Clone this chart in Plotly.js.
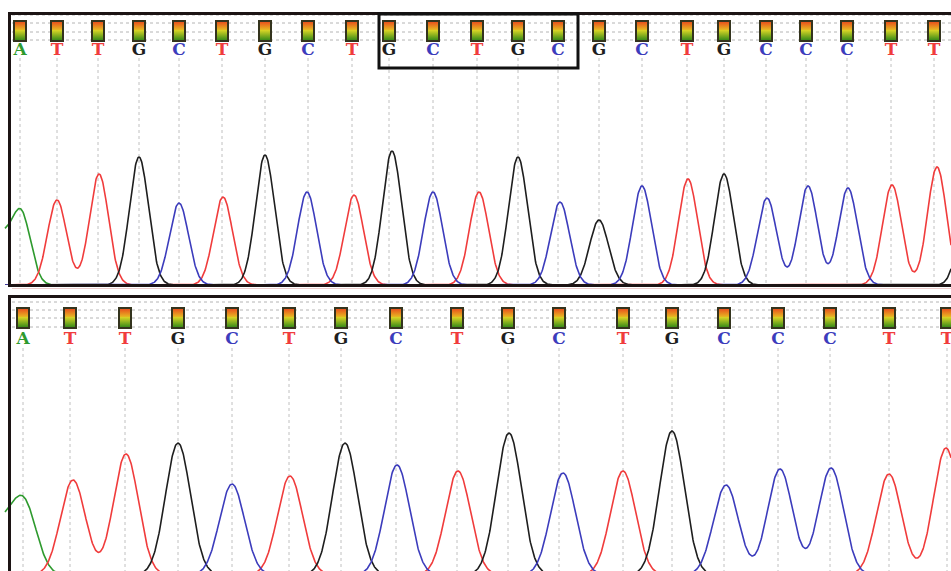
<!DOCTYPE html>
<html>
<head>
<meta charset="utf-8">
<script src="https://cdn.plot.ly/plotly-3.0.1.min.js"></script>
<style>html,body{margin:0;padding:0;background:#fff;}#chart{width:951px;height:571px;}</style>
</head>
<body>
<div id="chart"></div>
<script>
// ---------- DATA ----------
// Top chromatogram (with GCTGC insertion)
const topCallBases = ['A','T','T','G','C','T','G','C','T','G','C','T','G','C','G','C','T','G','C','C','C','T','T'];
const topCallPos   = [20,57,98,139,179,222,265,308,352,389,433,477,518,558,599,642,687,724,766,806,847,891,934];
const topPeakBase  = ['A','A','T','T','G','C','T','G','C','T','G','C','T','G','C','G','C','T','G','C','C','C','T','T','G'];
const topPeakPos   = [0,21,57,99,139,179,223,265,307,354,392,433,479,518,560,599,642,688,724,767,808,848,892,937,970];
const topPeakHeight= [450,720,850,1110,1280,820,880,1300,930,900,1340,930,930,1280,830,650,990,1060,1110,870,990,970,1000,1180,1200];
const topHighlight = [9, 13]; // indices of highlighted calls (GCTGC)

// Bottom chromatogram
const botCallBases = ['A','T','T','G','C','T','G','C','T','G','C','T','G','C','C','C','T','T'];
const botCallPos   = [23,70,125,178,232,289,341,396,457,508,559,623,672,724,778,830,889,947];
const botPeakBase  = ['A','A','T','T','G','C','T','G','C','T','G','C','T','G','C','C','C','T','T'];
const botPeakPos   = [0,24,73,126,178,232,290,345,397,458,509,563,623,672,726,780,831,889,946];
const botPeakHeight= [440,710,950,1210,1320,910,990,1320,1100,1040,1420,1020,1040,1440,900,1060,1070,1010,1270];

// ---------- STYLE ----------
const W = 951, H = 571;
const baseColor = {A:'#2e9a2e', T:'#f03c3c', G:'#1e1e1e', C:'#3c3cbc'};
const channelOrder = ['A','T','G','C'];
const px2paperY = py => 1 - py / H;

function signalTraces(pos, base, height, sigma, xa, ya) {
  const traces = [];
  channelOrder.forEach(ch => {
    const xs = [], ys = [];
    for (let x = 5; x <= W; x += 0.5) {
      let s = 0;
      for (let i = 0; i < pos.length; i++) {
        if (base[i] !== ch) continue;
        const d = x - pos[i];
        s += height[i] * Math.exp(-d * d / (2 * sigma * sigma));
      }
      xs.push(x); ys.push(s);
    }
    traces.push({type:'scatter', mode:'lines', x:xs, y:ys, xaxis:xa, yaxis:ya,
      line:{color:baseColor[ch], width:1.6}, hoverinfo:'skip', showlegend:false});
  });
  return traces;
}

function gridTrace(pos, yStart, yEnd, xa, ya) {
  const xs = [], ys = [];
  pos.forEach(p => { xs.push(p, p, null); ys.push(yStart, yEnd, null); });
  return {type:'scatter', mode:'lines', x:xs, y:ys, xaxis:xa, yaxis:ya,
    line:{color:'#c0c0c0', width:1, dash:'dot'}, hoverinfo:'skip', showlegend:false};
}

function boxTraces(pos, yTop, yBot, xa, ya) {
  const both = pos.concat(pos);
  const ysBoth = pos.map(() => yTop).concat(pos.map(() => yBot));
  return [
    {type:'scatter', mode:'markers', x:both, y:ysBoth, xaxis:xa, yaxis:ya,
      marker:{symbol:'square', size:14, color:'#34341e'}, hoverinfo:'skip', showlegend:false},
    {type:'scatter', mode:'markers', x:pos, y:pos.map(() => yTop), xaxis:xa, yaxis:ya,
      marker:{symbol:'square', size:10, color:'#e8521c', gradient:{type:'vertical', color:'#e6d424'}},
      hoverinfo:'skip', showlegend:false},
    {type:'scatter', mode:'markers', x:pos, y:pos.map(() => yBot), xaxis:xa, yaxis:ya,
      marker:{symbol:'square', size:10, color:'#dcd626', gradient:{type:'vertical', color:'#3a8c18'}},
      hoverinfo:'skip', showlegend:false}
  ];
}

function textTrace(pos, bases, y, xa, ya) {
  return {type:'scatter', mode:'text', x:pos, y:pos.map(() => y), text:bases, xaxis:xa, yaxis:ya,
    textposition:'middle center', cliponaxis:false,
    textfont:{family:'DejaVu Serif, Liberation Serif, serif', size:17, weight:'bold',
      color:bases.map(b => baseColor[b])},
    hoverinfo:'skip', showlegend:false};
}

// y units: 10 per pixel. Top baseline at py=285, bottom baseline at py=575
const topY = py => (285 - py) * 10;
const botY = py => (575 - py) * 10;

const data = [].concat(
  [gridTrace(topCallPos, topY(58), 0, 'x', 'y')],
  [gridTrace(botCallPos, botY(348), botY(580), 'x2', 'y2')],
  signalTraces(topPeakPos, topPeakBase, topPeakHeight, 9.5, 'x', 'y'),
  signalTraces(botPeakPos, botPeakBase, botPeakHeight, 12.5, 'x2', 'y2'),
  boxTraces(topCallPos, topY(27), topY(35), 'x', 'y'),
  boxTraces(botCallPos, botY(314), botY(322), 'x2', 'y2'),
  [textTrace(topCallPos, topCallBases, topY(50.5), 'x', 'y')],
  [textTrace(botCallPos, botCallBases, botY(339.5), 'x2', 'y2')]
);

const shapes = [];
// dotted guide lines in the base-call bands
[15, 23, 32, 40].forEach(py => shapes.push({type:'line', xref:'paper', yref:'paper', layer:'below',
  x0:12/W, x1:1, y0:px2paperY(py), y1:px2paperY(py), line:{color:'#b4b4b4', width:1, dash:'dot'}}));
[302, 310, 318, 327].forEach(py => shapes.push({type:'line', xref:'paper', yref:'paper', layer:'below',
  x0:12/W, x1:1, y0:px2paperY(py), y1:px2paperY(py), line:{color:'#b4b4b4', width:1, dash:'dot'}}));
// faint baseline under the top panel
shapes.push({type:'line', xref:'paper', yref:'paper', x0:12/W, x1:1, y0:px2paperY(288.5), y1:px2paperY(288.5),
  line:{color:'rgba(200,110,110,0.35)', width:1}});
// panel frames
shapes.push({type:'rect', xref:'paper', yref:'paper', x0:9.5/W, x1:1.02, y0:px2paperY(285.5), y1:px2paperY(13.5),
  line:{color:'#1c1414', width:3}});
shapes.push({type:'rect', xref:'paper', yref:'paper', x0:9.5/W, x1:1.02, y0:-0.05, y1:px2paperY(296.5),
  line:{color:'#1c1414', width:3}});
// highlight box around inserted bases
shapes.push({type:'rect', xref:'x', yref:'paper',
  x0:topCallPos[topHighlight[0]] - 10, x1:topCallPos[topHighlight[1]] + 20,
  y0:px2paperY(68), y1:px2paperY(14), line:{color:'#111', width:3}});

const axX = {range:[0, W], domain:[0,1], visible:false, fixedrange:true};
const layout = {
  width:W, height:H, margin:{l:0, r:0, t:0, b:0},
  paper_bgcolor:'#fff', plot_bgcolor:'rgba(0,0,0,0)', showlegend:false,
  xaxis:Object.assign({anchor:'y'}, axX),
  xaxis2:Object.assign({anchor:'y2'}, axX),
  yaxis:{domain:[px2paperY(285), px2paperY(12)], range:[0, 2730], visible:false, fixedrange:true},
  yaxis2:{domain:[0, px2paperY(295)], range:[botY(571), botY(295)], visible:false, fixedrange:true},
  shapes:shapes
};

Plotly.newPlot('chart', data, layout, {displayModeBar:false, staticPlot:true});
</script>
</body>
</html>
